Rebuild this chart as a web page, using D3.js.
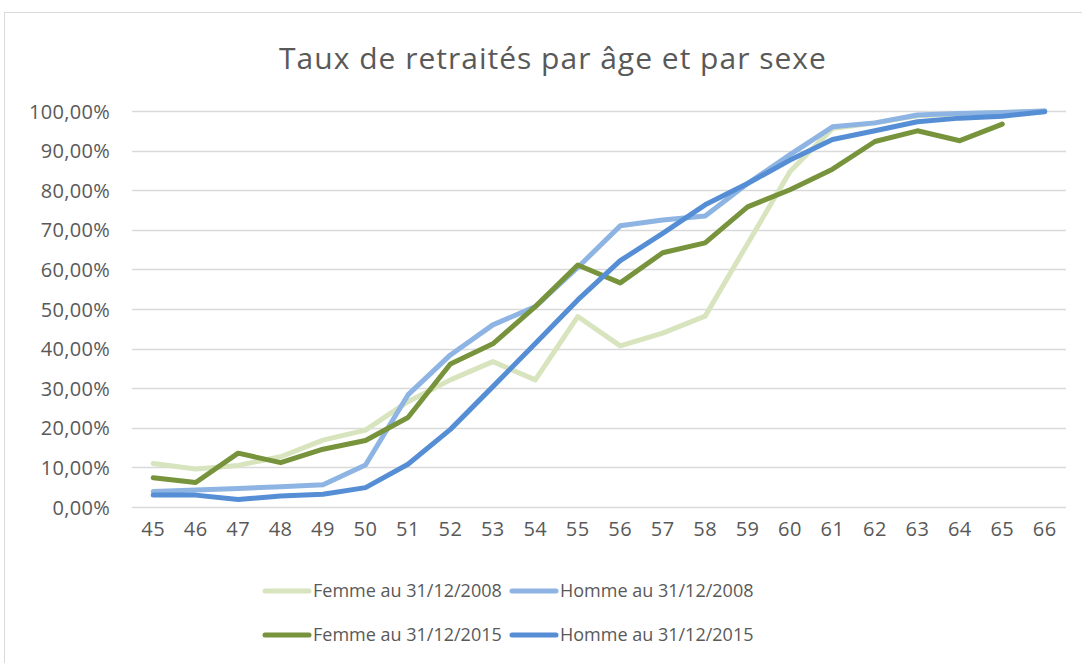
<!DOCTYPE html>
<html>
<head>
<meta charset="utf-8">
<script src="https://cdn.jsdelivr.net/npm/d3@7"></script>
<style>
  body { margin: 0; background: #fff; }
  text { font-family: "Open Sans", sans-serif; fill: #595959; }
</style>
</head>
<body>
<div id="chart"></div>
<script>
// ages on the x axis
var ages = ["45","46","47","48","49","50","51","52","53","54","55","56","57","58","59","60","61","62","63","64","65","66"];

// rates in %
var femme2008 = [11.0, 9.6, 10.5, 12.7, 16.9, 19.4, 26.6, 32.1, 36.7, 32.1, 48.1, 40.7, 43.9, 48.2, 66.5, 84.7, 95.6, 97.0, 98.8, 99.3, 99.6, 100];
var homme2008 = [3.9, 4.3, 4.7, 5.1, 5.6, 10.6, 28.3, 38.4, 46.0, 50.6, 60.5, 71.0, 72.5, 73.5, 81.7, 89.0, 96.0, 97.0, 99.0, 99.4, 99.6, 100];
var femme2015 = [7.4, 6.2, 13.6, 11.2, 14.6, 16.8, 22.6, 36.1, 41.2, 50.6, 61.1, 56.6, 64.2, 66.7, 75.8, 80.1, 85.3, 92.3, 95.0, 92.5, 96.7, null];
var homme2015 = [3.0, 3.0, 1.9, 2.8, 3.2, 4.9, 10.8, 19.6, 30.4, 41.3, 52.3, 62.2, 69.1, 76.3, 81.7, 87.6, 92.8, 95.0, 97.3, 98.2, 98.7, 99.8];

var yTicks = [0, 10, 20, 30, 40, 50, 60, 70, 80, 90, 100];

var series = [
    { name: "Femme au 31/12/2008", values: femme2008, color: "#D7E4BD" },
    { name: "Homme au 31/12/2008", values: homme2008, color: "#8EB4E3" },
    { name: "Femme au 31/12/2015", values: femme2015, color: "#77933C" },
    { name: "Homme au 31/12/2015", values: homme2015, color: "#558ED5" }
];

var W = 1082, H = 663;
var margin = { top: 111, right: 16, bottom: 156, left: 132 };
var width = W - margin.left - margin.right,
    height = H - margin.top - margin.bottom;

var svg = d3.select("#chart").append("svg")
    .attr("width", W)
    .attr("height", H);

// chart frame
svg.append("rect")
    .attr("x", 4.5).attr("y", 12.5)
    .attr("width", W + 10).attr("height", H + 10)
    .attr("fill", "none")
    .attr("stroke", "#d9d9d9");

svg.append("text")
    .attr("x", 553)
    .attr("y", 69)
    .attr("text-anchor", "middle")
    .style("font-size", "30px")
    .style("letter-spacing", "1px")
    .text("Taux de retraités par âge et par sexe");

var g = svg.append("g")
    .attr("transform", "translate(" + margin.left + "," + margin.top + ")");

var x = d3.scaleBand()
    .domain(ages)
    .range([0, width]);

var y = d3.scaleLinear()
    .domain([0, 100])
    .range([height, 0]);

// gridlines
g.selectAll(".grid")
    .data(yTicks)
    .enter().append("line")
    .attr("class", "grid")
    .attr("x1", 0).attr("x2", width)
    .attr("y1", function (d) { return Math.round(y(d)) + 0.5; })
    .attr("y2", function (d) { return Math.round(y(d)) + 0.5; })
    .attr("stroke", "#d9d9d9")
    .attr("stroke-width", 1.5);

// y axis
var yAxis = g.append("g")
    .call(d3.axisLeft(y).tickValues(yTicks).tickSize(0).tickPadding(22)
        .tickFormat(function (d) { return d.toFixed(2).replace(".", ",") + "%"; }));
yAxis.select(".domain").remove();
yAxis.selectAll("text")
    .style("font-size", "20px")
    .style("letter-spacing", "0.3px")
    .attr("dy", "0.35em");

// x axis
var xAxis = g.append("g")
    .attr("transform", "translate(0," + height + ")")
    .call(d3.axisBottom(x).tickSize(0).tickPadding(15));
xAxis.select(".domain").remove();
xAxis.selectAll("text")
    .style("font-size", "20px")
    .style("letter-spacing", "0.5px");

var line = d3.line()
    .defined(function (d) { return d != null; })
    .x(function (d, i) { return x(ages[i]) + x.bandwidth() / 2; })
    .y(function (d) { return y(d); });

g.selectAll(".series")
    .data(series)
    .enter().append("path")
    .attr("class", "series")
    .attr("d", function (d) { return line(d.values); })
    .attr("fill", "none")
    .attr("stroke", function (d) { return d.color; })
    .attr("stroke-width", 5)
    .attr("stroke-linejoin", "round")
    .attr("stroke-linecap", "round");

// legend, two rows of two
var legend = svg.selectAll(".legend")
    .data(series)
    .enter().append("g")
    .attr("class", "legend")
    .attr("transform", function (d, i) {
        return "translate(" + (i % 2 === 0 ? 265 : 512) + "," + (i < 2 ? 591 : 635) + ")";
    });

legend.append("line")
    .attr("x1", 0).attr("x2", 44)
    .attr("stroke", function (d) { return d.color; })
    .attr("stroke-width", 5)
    .attr("stroke-linecap", "round");

legend.append("text")
    .attr("x", 48)
    .attr("dy", "0.35em")
    .style("font-size", "18px")
    .text(function (d) { return d.name; });
</script>
</body>
</html>
